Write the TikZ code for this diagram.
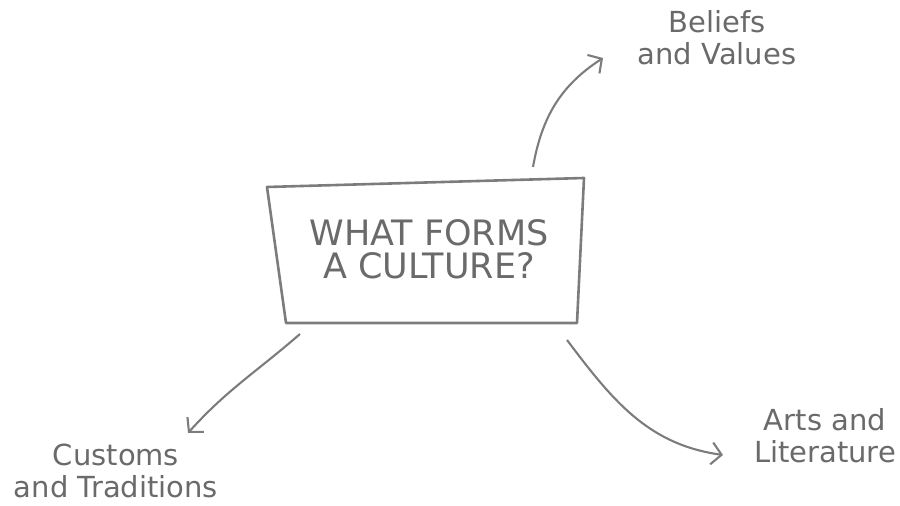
\documentclass[tikz,border=0pt]{standalone}
\usepackage{fontspec}
\setmainfont{DejaVu Sans}
\usetikzlibrary{arrows.meta}
\definecolor{inkgray}{HTML}{6A6A6A}
\definecolor{linegray}{HTML}{7C7C7C}

\begin{document}
\begin{tikzpicture}[x=1pt,y=1pt,
  answer/.style={text=inkgray, align=center, inner sep=0pt, font=\fontsize{29}{32}\selectfont},
  branch/.style={draw=linegray, line width=2.1pt, -{Straight Barb[length=10pt,width=22pt]}}]
  % Fix the page to the size of the reference
  \useasboundingbox (0,0) rectangle (900,506);

  % Corners of the slanted box round the question
  \coordinate (box top left)     at (267,319);
  \coordinate (box top right)    at (584,328);
  \coordinate (box bottom right) at (577,183);
  \coordinate (box bottom left)  at (286,183);
  \draw[linegray, line width=2.6pt, line join=round]
    (box top left) -- (box top right) -- (box bottom right) -- (box bottom left) -- cycle;

  % Question in the middle of the box
  \node[text=inkgray, align=center, font=\fontsize{35}{33}\selectfont] (question) at (429,257)
    {WHAT FORMS\\A CULTURE?};

  % The three answers round the box
  \node[answer] (beliefs) at (717,468) {Beliefs\\and Values};
  \node[answer] (customs) at (116,35)  {Customs\\and Traditions};
  \node[answer] (arts)    at (825,70)  {Arts and\\Literature};

  % Free ends of the arrows, next to the box and next to the answers
  \coordinate (beliefs start) at (533,339);
  \coordinate (beliefs tip)   at (603,448);
  \coordinate (customs start) at (300,172);
  \coordinate (customs tip)   at (188,73);
  \coordinate (arts start)    at (567,166);
  \coordinate (arts tip)      at (723,51);

  % Curved arrows from the box out to each answer
  \draw[branch] (beliefs start) to[out=80,in=213]  (beliefs tip);
  \draw[branch] (customs start) to[out=221,in=48]  (customs tip);
  \draw[branch] (arts start)    to[out=-53,in=172] (arts tip);
\end{tikzpicture}
\end{document}
